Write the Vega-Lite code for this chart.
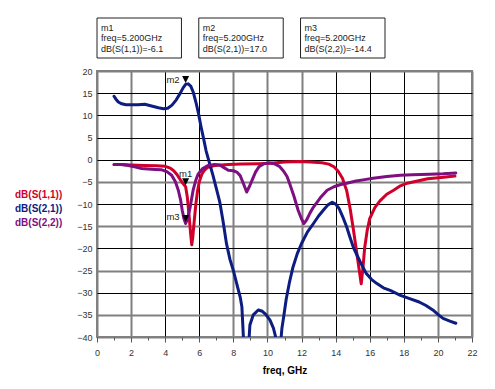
{
  "$schema": "https://vega.github.io/schema/vega-lite/v6.json",
  "padding": {"left": 5, "top": 17, "right": 5, "bottom": 5},
  "background": "white",
  "spacing": 7,
  "config": {"font": "Liberation Sans", "view": {"stroke": null}},
  "datasets": {
    "curves": [
      {"trace":"dB(S(1,1))","f":1.0,"db":-1.1},{"trace":"dB(S(1,1))","f":1.5,"db":-1.1},{"trace":"dB(S(1,1))","f":2.0,"db":-1.2},{"trace":"dB(S(1,1))","f":2.8,"db":-1.3},{"trace":"dB(S(1,1))","f":3.5,"db":-1.4},{"trace":"dB(S(1,1))","f":4.0,"db":-1.5},{"trace":"dB(S(1,1))","f":4.3,"db":-1.9},{"trace":"dB(S(1,1))","f":4.5,"db":-2.5},{"trace":"dB(S(1,1))","f":4.7,"db":-3.4},{"trace":"dB(S(1,1))","f":4.9,"db":-4.6},{"trace":"dB(S(1,1))","f":5.05,"db":-5.4},{"trace":"dB(S(1,1))","f":5.2,"db":-6.1},{"trace":"dB(S(1,1))","f":5.3,"db":-8.5},{"trace":"dB(S(1,1))","f":5.4,"db":-12.5},{"trace":"dB(S(1,1))","f":5.5,"db":-17.0},{"trace":"dB(S(1,1))","f":5.56,"db":-19.2},{"trace":"dB(S(1,1))","f":5.62,"db":-17.5},{"trace":"dB(S(1,1))","f":5.7,"db":-14.0},{"trace":"dB(S(1,1))","f":5.8,"db":-10.0},{"trace":"dB(S(1,1))","f":5.9,"db":-7.0},{"trace":"dB(S(1,1))","f":6.0,"db":-5.0},{"trace":"dB(S(1,1))","f":6.15,"db":-3.3},{"trace":"dB(S(1,1))","f":6.3,"db":-2.4},{"trace":"dB(S(1,1))","f":6.5,"db":-1.7},{"trace":"dB(S(1,1))","f":6.9,"db":-1.3},{"trace":"dB(S(1,1))","f":7.7,"db":-1.1},{"trace":"dB(S(1,1))","f":8.5,"db":-1.0},{"trace":"dB(S(1,1))","f":9.5,"db":-0.9},{"trace":"dB(S(1,1))","f":10.2,"db":-0.8},{"trace":"dB(S(1,1))","f":11.0,"db":-0.5},{"trace":"dB(S(1,1))","f":11.9,"db":-0.4},{"trace":"dB(S(1,1))","f":12.5,"db":-0.5},{"trace":"dB(S(1,1))","f":13.2,"db":-0.7},{"trace":"dB(S(1,1))","f":13.6,"db":-1.0},{"trace":"dB(S(1,1))","f":13.9,"db":-1.6},{"trace":"dB(S(1,1))","f":14.15,"db":-2.6},{"trace":"dB(S(1,1))","f":14.4,"db":-4.2},{"trace":"dB(S(1,1))","f":14.65,"db":-7.0},{"trace":"dB(S(1,1))","f":14.85,"db":-11.0},{"trace":"dB(S(1,1))","f":15.05,"db":-16.0},{"trace":"dB(S(1,1))","f":15.2,"db":-20.0},{"trace":"dB(S(1,1))","f":15.35,"db":-24.0},{"trace":"dB(S(1,1))","f":15.5,"db":-28.0},{"trace":"dB(S(1,1))","f":15.6,"db":-24.5},{"trace":"dB(S(1,1))","f":15.7,"db":-20.0},{"trace":"dB(S(1,1))","f":15.85,"db":-16.0},{"trace":"dB(S(1,1))","f":16.0,"db":-13.3},{"trace":"dB(S(1,1))","f":16.3,"db":-10.8},{"trace":"dB(S(1,1))","f":16.6,"db":-9.3},{"trace":"dB(S(1,1))","f":17.0,"db":-7.8},{"trace":"dB(S(1,1))","f":17.4,"db":-6.9},{"trace":"dB(S(1,1))","f":17.8,"db":-5.9},{"trace":"dB(S(1,1))","f":18.2,"db":-5.3},{"trace":"dB(S(1,1))","f":18.8,"db":-4.8},{"trace":"dB(S(1,1))","f":19.4,"db":-4.3},{"trace":"dB(S(1,1))","f":20.2,"db":-4.0},{"trace":"dB(S(1,1))","f":21.0,"db":-3.7},
      {"trace":"dB(S(2,1))","f":1.0,"db":14.3},{"trace":"dB(S(2,1))","f":1.1,"db":13.7},{"trace":"dB(S(2,1))","f":1.25,"db":13.0},{"trace":"dB(S(2,1))","f":1.45,"db":12.6},{"trace":"dB(S(2,1))","f":1.7,"db":12.4},{"trace":"dB(S(2,1))","f":2.0,"db":12.4},{"trace":"dB(S(2,1))","f":2.4,"db":12.4},{"trace":"dB(S(2,1))","f":2.8,"db":12.5},{"trace":"dB(S(2,1))","f":3.2,"db":12.1},{"trace":"dB(S(2,1))","f":3.6,"db":11.7},{"trace":"dB(S(2,1))","f":3.9,"db":11.5},{"trace":"dB(S(2,1))","f":4.15,"db":11.6},{"trace":"dB(S(2,1))","f":4.4,"db":12.3},{"trace":"dB(S(2,1))","f":4.65,"db":13.5},{"trace":"dB(S(2,1))","f":4.87,"db":14.9},{"trace":"dB(S(2,1))","f":5.05,"db":16.2},{"trace":"dB(S(2,1))","f":5.2,"db":17.0},{"trace":"dB(S(2,1))","f":5.35,"db":17.1},{"trace":"dB(S(2,1))","f":5.5,"db":16.6},{"trace":"dB(S(2,1))","f":5.65,"db":15.2},{"trace":"dB(S(2,1))","f":5.8,"db":13.0},{"trace":"dB(S(2,1))","f":5.95,"db":10.5},{"trace":"dB(S(2,1))","f":6.1,"db":7.5},{"trace":"dB(S(2,1))","f":6.25,"db":4.8},{"trace":"dB(S(2,1))","f":6.4,"db":2.0},{"trace":"dB(S(2,1))","f":6.6,"db":-0.8},{"trace":"dB(S(2,1))","f":6.8,"db":-3.5},{"trace":"dB(S(2,1))","f":7.0,"db":-6.5},{"trace":"dB(S(2,1))","f":7.2,"db":-9.5},{"trace":"dB(S(2,1))","f":7.4,"db":-14.0},{"trace":"dB(S(2,1))","f":7.6,"db":-19.0},{"trace":"dB(S(2,1))","f":7.8,"db":-22.5},{"trace":"dB(S(2,1))","f":8.0,"db":-25.0},{"trace":"dB(S(2,1))","f":8.2,"db":-28.0},{"trace":"dB(S(2,1))","f":8.4,"db":-31.0},{"trace":"dB(S(2,1))","f":8.5,"db":-33.2},{"trace":"dB(S(2,1))","f":8.55,"db":-37.0},{"trace":"dB(S(2,1))","f":8.6,"db":-41.0},{"trace":"dB(S(2,1))","f":8.7,"db":-46.0},{"trace":"dB(S(2,1))","f":8.85,"db":-46.0},{"trace":"dB(S(2,1))","f":8.92,"db":-40.5},{"trace":"dB(S(2,1))","f":8.97,"db":-37.3},{"trace":"dB(S(2,1))","f":9.17,"db":-35.0},{"trace":"dB(S(2,1))","f":9.46,"db":-33.9},{"trace":"dB(S(2,1))","f":9.7,"db":-34.2},{"trace":"dB(S(2,1))","f":9.9,"db":-34.9},{"trace":"dB(S(2,1))","f":10.15,"db":-36.2},{"trace":"dB(S(2,1))","f":10.35,"db":-38.0},{"trace":"dB(S(2,1))","f":10.45,"db":-39.5},{"trace":"dB(S(2,1))","f":10.55,"db":-41.5},{"trace":"dB(S(2,1))","f":10.62,"db":-46.0},{"trace":"dB(S(2,1))","f":10.72,"db":-46.0},{"trace":"dB(S(2,1))","f":10.78,"db":-41.0},{"trace":"dB(S(2,1))","f":10.85,"db":-38.0},{"trace":"dB(S(2,1))","f":10.95,"db":-35.5},{"trace":"dB(S(2,1))","f":11.1,"db":-31.5},{"trace":"dB(S(2,1))","f":11.3,"db":-27.5},{"trace":"dB(S(2,1))","f":11.5,"db":-24.2},{"trace":"dB(S(2,1))","f":11.75,"db":-21.2},{"trace":"dB(S(2,1))","f":12.0,"db":-18.9},{"trace":"dB(S(2,1))","f":12.35,"db":-16.3},{"trace":"dB(S(2,1))","f":12.7,"db":-14.4},{"trace":"dB(S(2,1))","f":13.0,"db":-12.7},{"trace":"dB(S(2,1))","f":13.3,"db":-11.3},{"trace":"dB(S(2,1))","f":13.55,"db":-10.2},{"trace":"dB(S(2,1))","f":13.8,"db":-9.6},{"trace":"dB(S(2,1))","f":14.0,"db":-10.0},{"trace":"dB(S(2,1))","f":14.2,"db":-11.0},{"trace":"dB(S(2,1))","f":14.45,"db":-13.2},{"trace":"dB(S(2,1))","f":14.65,"db":-15.2},{"trace":"dB(S(2,1))","f":14.85,"db":-17.6},{"trace":"dB(S(2,1))","f":15.05,"db":-19.9},{"trace":"dB(S(2,1))","f":15.25,"db":-21.5},{"trace":"dB(S(2,1))","f":15.5,"db":-23.5},{"trace":"dB(S(2,1))","f":15.8,"db":-25.7},{"trace":"dB(S(2,1))","f":16.1,"db":-27.0},{"trace":"dB(S(2,1))","f":16.4,"db":-27.9},{"trace":"dB(S(2,1))","f":16.8,"db":-28.9},{"trace":"dB(S(2,1))","f":17.2,"db":-29.5},{"trace":"dB(S(2,1))","f":17.8,"db":-30.6},{"trace":"dB(S(2,1))","f":18.3,"db":-31.3},{"trace":"dB(S(2,1))","f":18.9,"db":-32.1},{"trace":"dB(S(2,1))","f":19.3,"db":-32.9},{"trace":"dB(S(2,1))","f":19.7,"db":-33.9},{"trace":"dB(S(2,1))","f":20.0,"db":-34.9},{"trace":"dB(S(2,1))","f":20.3,"db":-35.8},{"trace":"dB(S(2,1))","f":20.7,"db":-36.4},{"trace":"dB(S(2,1))","f":21.05,"db":-36.9},
      {"trace":"dB(S(2,2))","f":1.0,"db":-1.1},{"trace":"dB(S(2,2))","f":1.4,"db":-1.1},{"trace":"dB(S(2,2))","f":1.84,"db":-1.3},{"trace":"dB(S(2,2))","f":2.2,"db":-1.6},{"trace":"dB(S(2,2))","f":2.62,"db":-2.0},{"trace":"dB(S(2,2))","f":3.0,"db":-2.1},{"trace":"dB(S(2,2))","f":3.4,"db":-2.2},{"trace":"dB(S(2,2))","f":3.8,"db":-2.3},{"trace":"dB(S(2,2))","f":4.1,"db":-2.7},{"trace":"dB(S(2,2))","f":4.38,"db":-3.5},{"trace":"dB(S(2,2))","f":4.6,"db":-5.0},{"trace":"dB(S(2,2))","f":4.77,"db":-6.9},{"trace":"dB(S(2,2))","f":4.9,"db":-9.0},{"trace":"dB(S(2,2))","f":5.0,"db":-11.4},{"trace":"dB(S(2,2))","f":5.1,"db":-13.3},{"trace":"dB(S(2,2))","f":5.2,"db":-14.4},{"trace":"dB(S(2,2))","f":5.3,"db":-13.5},{"trace":"dB(S(2,2))","f":5.45,"db":-11.0},{"trace":"dB(S(2,2))","f":5.55,"db":-8.8},{"trace":"dB(S(2,2))","f":5.65,"db":-6.7},{"trace":"dB(S(2,2))","f":5.8,"db":-4.6},{"trace":"dB(S(2,2))","f":5.94,"db":-3.2},{"trace":"dB(S(2,2))","f":6.2,"db":-2.0},{"trace":"dB(S(2,2))","f":6.53,"db":-1.3},{"trace":"dB(S(2,2))","f":6.9,"db":-1.1},{"trace":"dB(S(2,2))","f":7.2,"db":-1.2},{"trace":"dB(S(2,2))","f":7.45,"db":-1.8},{"trace":"dB(S(2,2))","f":7.7,"db":-2.4},{"trace":"dB(S(2,2))","f":8.0,"db":-2.5},{"trace":"dB(S(2,2))","f":8.2,"db":-2.8},{"trace":"dB(S(2,2))","f":8.4,"db":-3.6},{"trace":"dB(S(2,2))","f":8.6,"db":-5.5},{"trace":"dB(S(2,2))","f":8.78,"db":-7.3},{"trace":"dB(S(2,2))","f":8.95,"db":-6.0},{"trace":"dB(S(2,2))","f":9.1,"db":-4.6},{"trace":"dB(S(2,2))","f":9.3,"db":-2.8},{"trace":"dB(S(2,2))","f":9.5,"db":-1.6},{"trace":"dB(S(2,2))","f":9.8,"db":-0.9},{"trace":"dB(S(2,2))","f":10.1,"db":-0.7},{"trace":"dB(S(2,2))","f":10.4,"db":-0.9},{"trace":"dB(S(2,2))","f":10.7,"db":-1.5},{"trace":"dB(S(2,2))","f":10.95,"db":-2.6},{"trace":"dB(S(2,2))","f":11.15,"db":-3.8},{"trace":"dB(S(2,2))","f":11.3,"db":-5.4},{"trace":"dB(S(2,2))","f":11.55,"db":-8.2},{"trace":"dB(S(2,2))","f":11.8,"db":-11.4},{"trace":"dB(S(2,2))","f":12.0,"db":-13.4},{"trace":"dB(S(2,2))","f":12.14,"db":-14.4},{"trace":"dB(S(2,2))","f":12.3,"db":-13.6},{"trace":"dB(S(2,2))","f":12.5,"db":-12.0},{"trace":"dB(S(2,2))","f":12.7,"db":-10.7},{"trace":"dB(S(2,2))","f":13.1,"db":-8.6},{"trace":"dB(S(2,2))","f":13.5,"db":-6.9},{"trace":"dB(S(2,2))","f":13.9,"db":-6.1},{"trace":"dB(S(2,2))","f":14.3,"db":-5.6},{"trace":"dB(S(2,2))","f":14.65,"db":-5.3},{"trace":"dB(S(2,2))","f":15.2,"db":-4.8},{"trace":"dB(S(2,2))","f":15.7,"db":-4.5},{"trace":"dB(S(2,2))","f":16.2,"db":-4.2},{"trace":"dB(S(2,2))","f":17.0,"db":-3.8},{"trace":"dB(S(2,2))","f":17.8,"db":-3.5},{"trace":"dB(S(2,2))","f":18.5,"db":-3.4},{"trace":"dB(S(2,2))","f":19.5,"db":-3.3},{"trace":"dB(S(2,2))","f":20.3,"db":-3.2},{"trace":"dB(S(2,2))","f":21.05,"db":-3.0}
    ],
    "markers": [
      {"marker":"m1","f":5.2,"db":-6.1,"label":"m1\nfreq=5.200GHz\ndB(S(1,1))=-6.1"},
      {"marker":"m2","f":5.2,"db":17.0,"label":"m2\nfreq=5.200GHz\ndB(S(2,1))=17.0"},
      {"marker":"m3","f":5.2,"db":-14.4,"label":"m3\nfreq=5.200GHz\ndB(S(2,2))=-14.4"}
    ]
  },
  "vconcat": [
    {
      "width": 288,
      "height": 40,
      "view": {"stroke": null},
      "data": {"name": "markers"},
      "encoding": {
        "x": {"field": "marker", "type": "nominal", "axis": null, "scale": {"paddingInner": 0.17, "paddingOuter": 0}}
      },
      "layer": [
        {"mark": {"type": "rect", "fill": "white", "stroke": "#222222", "strokeWidth": 1}},
        {
          "mark": {"type": "text", "align": "left", "baseline": "middle", "dx": 4, "dy": -10.5, "lineBreak": "\n", "fontSize": 9, "lineHeight": 10.5, "color": "#222222"},
          "encoding": {
            "x": {"field": "marker", "type": "nominal", "bandPosition": 0},
            "text": {"field": "label"}
          }
        }
      ]
    },
    {
      "width": 375,
      "height": 266,
      "view": {"stroke": "#808080", "strokeWidth": 2},
      "encoding": {
        "x": {
          "field": "f", "type": "quantitative",
          "scale": {"domain": [0, 22], "nice": false, "zero": false},
          "axis": {
            "values": [0,1,2,3,4,5,6,7,8,9,10,11,12,13,14,15,16,17,18,19,20,21,22],
            "labelExpr": "datum.value % 2 == 0 ? datum.label : ''",
            "labelOverlap": false,
            "labelFlush": false,
            "title": "freq, GHz",
            "titleFontWeight": "bold",
            "titleFontSize": 10,
            "titleColor": "#000000",
            "titlePadding": 8,
            "labelFontSize": 9,
            "labelColor": "#333333",
            "labelPadding": 6,
            "domain": false,
            "tickColor": "#555555",
            "tickSize": {"condition": {"test": "datum.value % 2 == 1", "value": 3}, "value": 5},
            "gridColor": {"condition": {"test": "indexof([4,6,14,16,18], datum.value) >= 0", "value": "#000000"}, "value": "#808080"},
            "gridWidth": {"condition": {"test": "indexof([4,6,14,16,18], datum.value) >= 0", "value": 1}, "value": 2},
            "gridOpacity": {"condition": {"test": "datum.value % 2 == 1", "value": 0}, "value": 1}
          }
        },
        "y": {
          "field": "db", "type": "quantitative",
          "scale": {"domain": [-40, 20], "nice": false, "zero": false},
          "axis": {
            "values": [-40,-35,-30,-25,-20,-15,-10,-5,0,5,10,15,20],
            "title": null,
            "ticks": false,
            "domain": false,
            "labelFlush": false,
            "labelPadding": 5,
            "labelFontSize": 9,
            "labelColor": "#333333",
            "gridColor": {"condition": {"test": "indexof([15,10,5,0,-10,-20,-30], datum.value) >= 0", "value": "#000000"}, "value": "#808080"},
            "gridWidth": {"condition": {"test": "indexof([15,10,5,0,-10,-20,-30], datum.value) >= 0", "value": 1}, "value": 2}
          }
        }
      },
      "layer": [
        {
          "data": {"name": "curves"},
          "mark": {"type": "line", "strokeWidth": 3, "clip": true, "strokeJoin": "round", "strokeCap": "round"},
          "encoding": {
            "color": {
              "field": "trace", "type": "nominal",
              "scale": {"domain": ["dB(S(1,1))", "dB(S(2,1))", "dB(S(2,2))"], "range": ["#d0002a", "#0c1c80", "#7e0f80"]},
              "legend": {
                "orient": "none", "legendX": -92, "legendY": 172,
                "title": null, "padding": 0,
                "symbolSize": 0, "symbolOpacity": 0, "symbolStrokeWidth": 0,
                "labelOffset": 0, "labelFontSize": 10, "labelFontWeight": "bold", "labelLimit": 200,
                "rowPadding": 4,
                "encode": {"labels": {"update": {"fill": {"scale": "color", "field": "value"}}}}
              }
            }
          }
        },
        {
          "data": {"name": "markers"},
          "mark": {"type": "point", "shape": "M-1,-2.4L1,-2.4L0,-0.4Z", "filled": true, "fill": "#000000", "opacity": 1, "size": 49, "strokeWidth": 0}
        },
        {
          "data": {"name": "markers"},
          "transform": [{"filter": "datum.marker == 'm1'"}],
          "mark": {"type": "text", "align": "center", "baseline": "middle", "dy": -13, "fontSize": 9.5, "color": "#222222"},
          "encoding": {"text": {"field": "marker"}}
        },
        {
          "data": {"name": "markers"},
          "transform": [{"filter": "datum.marker == 'm2'"}],
          "mark": {"type": "text", "align": "right", "baseline": "middle", "dx": -6, "dy": -4, "fontSize": 9.5, "color": "#222222"},
          "encoding": {"text": {"field": "marker"}}
        },
        {
          "data": {"name": "markers"},
          "transform": [{"filter": "datum.marker == 'm3'"}],
          "mark": {"type": "text", "align": "right", "baseline": "middle", "dx": -6, "dy": -7, "fontSize": 9.5, "color": "#222222"},
          "encoding": {"text": {"field": "marker"}}
        }
      ]
    }
  ]
}
